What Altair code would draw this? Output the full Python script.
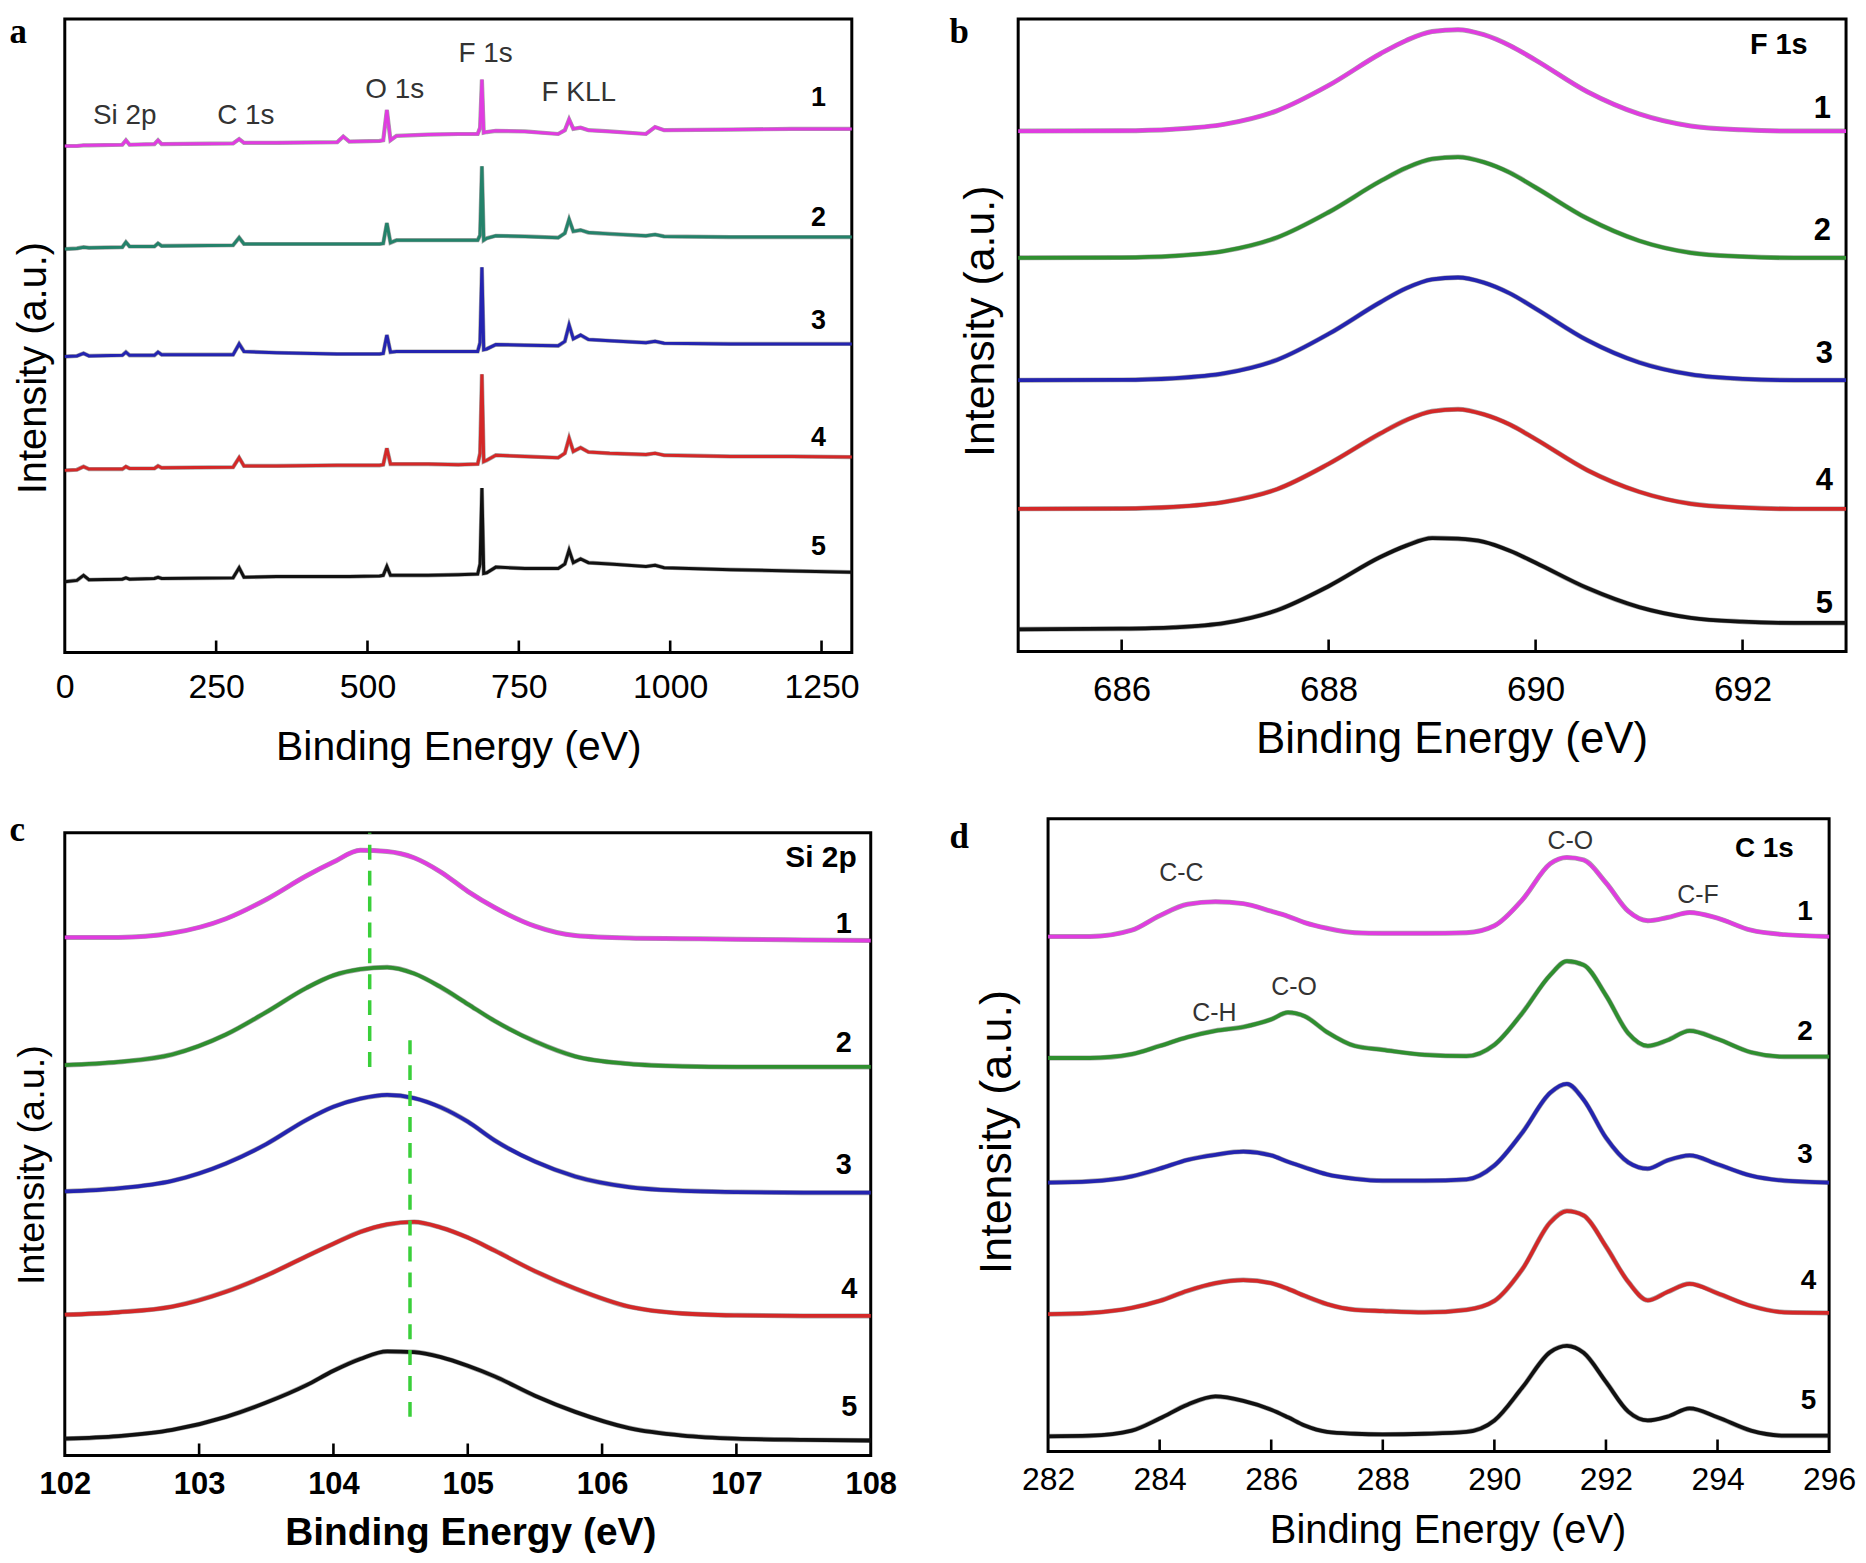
import altair as alt
import pandas as pd

FONT = "Liberation Sans"
SERIF = "Liberation Serif"
SERIES = ["1", "2", "3", "4", "5"]

# ---------------- panel a : survey spectra ----------------
A_X = [0, 20, 31, 40, 95, 101, 107, 148, 154, 160, 278, 288, 296, 350, 450, 460, 470,
       520, 526, 532, 538, 548, 600, 650, 682, 686, 689, 692, 697, 712, 760, 815, 826,
       833, 840, 852, 865, 900, 960, 975, 990, 1100, 1200, 1300]
A_S1 = [80.1, 80.1, 80.2, 80.2, 80.3, 81.0, 80.3, 80.4, 81.0, 80.4, 80.5, 81.2, 80.6, 80.6,
        80.7, 81.6, 80.8, 80.9, 81.0, 85.8, 81.0, 81.7, 81.9, 82.0, 82.0, 83.0, 90.6, 82.2,
        82.3, 82.5, 82.4, 82.0, 82.6, 84.3, 82.8, 83.0, 82.6, 82.4, 82.0, 83.1, 82.6, 82.7,
        82.8, 82.8]
A_S2 = [63.8, 63.9, 64.1, 64.0, 64.1, 64.9, 64.2, 64.2, 64.7, 64.3, 64.4, 65.6, 64.6, 64.6,
        64.6, 64.6, 64.6, 64.6, 64.7, 67.9, 64.8, 65.2, 65.2, 65.2, 65.2, 66.0, 76.9, 65.2,
        65.5, 65.9, 65.8, 65.6, 66.3, 68.5, 66.6, 66.8, 66.4, 66.2, 65.9, 66.1, 65.8, 65.7,
        65.7, 65.7]
A_S3 = [46.8, 46.9, 47.3, 46.9, 47.0, 47.5, 47.0, 47.0, 47.5, 47.1, 47.1, 48.8, 47.6, 47.4,
        47.2, 47.2, 47.2, 47.2, 47.3, 50.2, 47.5, 47.6, 47.6, 47.6, 47.6, 49.0, 60.9, 47.9,
        48.0, 48.7, 48.6, 48.5, 49.2, 51.8, 49.6, 50.2, 49.5, 49.3, 49.0, 49.2, 48.9, 48.8,
        48.8, 48.8]
A_S4 = [28.8, 28.9, 29.4, 29.0, 29.0, 29.4, 29.1, 29.1, 29.5, 29.2, 29.3, 30.8, 29.5, 29.5,
        29.6, 29.6, 29.6, 29.6, 29.7, 32.3, 29.8, 29.8, 29.8, 29.7, 29.8, 31.5, 44.0, 30.2,
        30.4, 31.2, 31.0, 30.8, 31.5, 33.9, 31.8, 32.4, 31.7, 31.5, 31.3, 31.5, 31.2, 31.0,
        31.0, 30.9]
A_S5 = [11.2, 11.4, 12.2, 11.5, 11.6, 11.8, 11.6, 11.7, 11.9, 11.7, 11.8, 13.4, 11.9, 12.0,
        12.0, 12.0, 12.0, 12.1, 12.2, 13.6, 12.2, 12.2, 12.2, 12.3, 12.4, 14.0, 26.0, 12.5,
        12.6, 13.5, 13.3, 13.3, 14.0, 16.2, 14.2, 14.8, 14.2, 14.0, 13.6, 13.8, 13.4, 13.1,
        12.9, 12.7]
A_TICKS = [0, 250, 500, 750, 1000, 1250]
A_PEAK_TEXT = ["Si 2p", "C 1s", "O 1s", "F 1s", "F KLL"]
A_PEAK_X = [99, 299, 545, 695, 849]
A_PEAK_Y = [84.9, 84.9, 89.0, 94.6, 88.4]
A_NUM_X = [1245, 1245, 1245, 1245, 1245]
A_NUM_Y = [87.7, 68.7, 52.4, 33.9, 16.7]

# ---------------- panel b : F 1s ----------------
B_X = [685, 686, 686.5, 687, 687.5, 688, 688.5, 688.75, 689, 689.25, 689.5, 689.75, 690,
       690.5, 691, 691.5, 692, 692.5, 693]
B_S1 = [82.1, 82.15, 82.4, 83.2, 85.3, 89.3, 94.3, 96.4, 97.8, 98.1, 97.3, 95.6, 93.3, 88.3, 84.8, 82.9, 82.3, 82.1, 82.1]
B_S2 = [62.1, 62.15, 62.4, 63.2, 65.3, 69.3, 74.2, 76.3, 77.7, 78.0, 77.2, 75.55, 73.2, 68.3, 64.8, 62.9, 62.3, 62.1, 62.1]
B_S3 = [42.8, 42.85, 43.1, 43.9, 46.0, 50.1, 55.1, 57.3, 58.7, 59.0, 58.2, 56.5, 54.1, 49.1, 45.6, 43.7, 43.0, 42.8, 42.8]
B_S4 = [22.5, 22.55, 22.8, 23.6, 25.6, 29.6, 34.4, 36.5, 37.9, 38.2, 37.4, 35.8, 33.5, 28.6, 25.2, 23.3, 22.7, 22.5, 22.5]
B_S5 = [3.5, 3.6, 3.8, 4.5, 6.5, 10.3, 14.9, 16.7, 17.9, 17.8, 17.3, 15.9, 14.0, 10.0, 7.0, 5.3, 4.7, 4.5, 4.5]
B_TICKS = [686, 688, 690, 692]
B_NUM_X = [692.77, 692.77, 692.79, 692.79, 692.79]
B_NUM_Y = [85.5, 66.4, 46.9, 26.9, 7.5]

# ---------------- panel c : Si 2p ----------------
C_X = [102, 102.4, 102.8, 103.2, 103.5, 103.8, 104.0, 104.2, 104.4, 104.6, 104.8, 105.0,
       105.2, 105.5, 105.8, 106.2, 106.6, 107.0, 107.5, 108]
C_S1 = [83.2, 83.2, 83.9, 86.2, 89.3, 93.1, 95.3, 97.2, 97.0, 96.0, 93.7, 90.6, 88.0, 85.0, 83.5, 83.1, 83.0, 82.9, 82.8, 82.7]
C_S2 = [62.7, 63.2, 64.4, 67.6, 71.2, 75.1, 77.1, 78.1, 78.4, 77.4, 75.2, 72.5, 69.8, 66.5, 64.1, 62.9, 62.5, 62.4, 62.4, 62.4]
C_S3 = [42.4, 42.9, 44.1, 46.9, 50.0, 53.9, 56.0, 57.3, 57.9, 57.4, 55.9, 53.6, 50.6, 47.2, 44.8, 43.1, 42.5, 42.3, 42.2, 42.2]
C_S4 = [22.6, 23.0, 23.9, 26.3, 28.9, 32.0, 34.0, 35.9, 37.1, 37.5, 36.6, 35.0, 32.9, 29.6, 26.8, 23.9, 22.8, 22.5, 22.4, 22.4]
C_S5 = [2.7, 3.1, 4.1, 6.2, 8.5, 11.3, 13.6, 15.5, 16.7, 16.6, 15.8, 14.4, 12.7, 9.6, 7.0, 4.4, 3.2, 2.7, 2.5, 2.4]
C_TICKS = [102, 103, 104, 105, 106, 107, 108]
C_DASH_X = [104.27, 104.57]
C_DASH_LO = [62.4, 6.2]
C_DASH_HI = [100.0, 66.7]
C_NUM_X = [107.8, 107.8, 107.8, 107.84, 107.84]
C_NUM_Y = [85.4, 66.2, 46.7, 26.7, 7.8]

# ---------------- panel d : C 1s ----------------
D_X = [282, 282.75, 283.5, 284, 284.5, 285, 285.5, 286, 286.3, 286.6, 287, 287.5, 288,
       288.75, 289.5, 290, 290.5, 291, 291.3, 291.6, 292, 292.4, 292.75, 293.1, 293.5,
       294, 294.6, 295.2, 296]
D_S1 = [81.4, 81.4, 82.4, 84.7, 86.5, 86.9, 86.6, 85.4, 84.6, 83.6, 82.7, 82.0, 81.9, 81.9, 82.0,
        83.1, 87.2, 92.9, 93.9, 93.5, 89.9, 85.4, 83.9, 84.4, 85.2, 84.3, 82.4, 81.7, 81.4]
D_S2 = [62.2, 62.2, 62.8, 64.1, 65.5, 66.5, 67.1, 68.3, 69.4, 68.8, 66.3, 64.1, 63.5, 62.7, 62.5,
        64.3, 69.3, 75.3, 77.5, 76.9, 72.1, 66.1, 64.1, 65.0, 66.5, 65.2, 63.1, 62.4, 62.4]
D_S3 = [42.5, 42.7, 43.5, 44.7, 46.1, 46.9, 47.4, 46.8, 45.8, 44.9, 43.8, 43.1, 42.8, 42.8, 43.0,
        45.2, 50.4, 56.7, 58.1, 55.6, 49.6, 45.7, 44.7, 46.0, 46.8, 45.4, 43.6, 42.8, 42.5]
D_S4 = [21.7, 21.9, 22.7, 23.8, 25.4, 26.6, 27.1, 26.6, 25.7, 24.6, 23.3, 22.4, 22.2, 22.0, 22.4,
        23.8, 28.8, 36.2, 38.0, 37.3, 32.4, 26.8, 23.9, 25.2, 26.5, 25.0, 23.0, 22.0, 21.9]
D_S5 = [2.4, 2.5, 3.3, 5.2, 7.4, 8.7, 8.0, 6.6, 5.4, 4.1, 3.1, 2.8, 2.7, 2.8, 3.1,
        4.9, 10.1, 15.7, 16.7, 15.6, 11.0, 6.3, 4.9, 5.5, 6.8, 5.4, 3.3, 2.5, 2.5]
D_TICKS = [282, 284, 286, 288, 290, 292, 294, 296]
D_PEAK_TEXT = ["C-C", "C-O", "C-F", "C-H", "C-O"]
D_PEAK_X = [284.39, 291.36, 293.65, 284.98, 286.41]
D_PEAK_Y = [91.5, 96.5, 87.9, 69.3, 73.4]
D_NUM_X = [295.57, 295.57, 295.57, 295.63, 295.63]
D_NUM_Y = [85.2, 66.3, 46.9, 26.9, 8.0]

MAGENTA, BLUE, RED, BLACK = "#E03CE0", "#2424B0", "#D42828", "#111111"
COLORS_A = [MAGENTA, "#24826A", BLUE, RED, BLACK]
COLORS_BCD = [MAGENTA, "#2F8F2F", BLUE, RED, BLACK]


def long_df(xs, ys_list):
    rows = []
    for name, ys in zip(SERIES, ys_list):
        for x, y in zip(xs, ys):
            rows.append({"x": x, "y": y, "s": name})
    return pd.DataFrame(rows)


def panel(xs, ys_list, colors, W, H, xdom, ydom, ticks, interp, lw,
          xlab, xtitle, ytitle, letter, nums, title_lab=None, peaks=None, extra=None,
          frame_top=None):
    xs_scale = alt.Scale(domain=xdom, nice=False, zero=False)
    ys_scale = alt.Scale(domain=ydom, nice=False, zero=False)
    xaxis = alt.Axis(values=ticks, format="d", labelFont=FONT, labelFontSize=xlab["fs"],
                     labelFontWeight=xlab["w"], labelColor="black", labelPadding=xlab["pad"],
                     labelFlush=False, labelOverlap=False, ticks=False, tickSize=0,
                     domain=False, grid=False, title="Binding Energy (eV)", titleFont=FONT,
                     titleFontSize=xtitle["fs"], titleFontWeight=xtitle["w"],
                     titleColor="black", titleX=xtitle["x"], titleY=xtitle["y"],
                     titleBaseline="top", titleAlign="center")
    yaxis = alt.Axis(labels=False, ticks=False, tickSize=0, domain=False, grid=False,
                     title="Intensity (a.u.)", titleFont=FONT, titleFontSize=ytitle["fs"],
                     titleFontWeight="normal", titleColor="black", titleX=ytitle["x"],
                     titleY=ytitle["y"], titleAngle=270, titleBaseline="bottom",
                     titleAlign="center")

    def X(field="x"):
        return alt.X(f"{field}:Q", scale=xs_scale, axis=xaxis)

    def Y(field="y"):
        return alt.Y(f"{field}:Q", scale=ys_scale, axis=yaxis)

    layers = []
    if frame_top is not None:
        layers.append(alt.Chart(pd.DataFrame({"f": [0]})).mark_rect(
            fillOpacity=0, stroke="black", strokeWidth=3).encode(
            x=alt.value(0), x2=alt.value(W), y=alt.value(frame_top), y2=alt.value(H)))

    df = long_df(xs, ys_list)
    color = alt.Color("s:N", scale=alt.Scale(domain=SERIES, range=colors), legend=None)
    layers.append(alt.Chart(df).mark_line(interpolate=interp, strokeWidth=lw + 1.2,
                                          color="#202020", opacity=0.4).encode(
        x=X(), y=Y(), detail="s:N"))
    layers.append(alt.Chart(df).mark_line(interpolate=interp, strokeWidth=lw).encode(
        x=X(), y=Y(), color=color, detail="s:N"))
    inner = [t for t in ticks if xdom[0] < t < xdom[1]]
    layers.append(alt.Chart(pd.DataFrame({"x": inner})).mark_rule(
        color="black", strokeWidth=2.6).encode(
        x=X(), y=alt.value(H), y2=alt.value(H - 12)))
    if extra is not None:
        layers.append(extra(X, Y))
    ndf = pd.DataFrame({"x": nums["x"], "y": nums["y"], "t": SERIES})
    layers.append(alt.Chart(ndf).mark_text(font=FONT, fontWeight="bold", fontSize=nums["fs"],
                                           color="black", align="center", baseline="middle").encode(
        x=X(), y=Y(), text="t:N"))
    if title_lab is not None:
        tdf = pd.DataFrame({"x": [title_lab["x"]], "y": [title_lab["y"]], "t": [title_lab["t"]]})
        layers.append(alt.Chart(tdf).mark_text(font=FONT, fontWeight="bold",
                                               fontSize=title_lab["fs"], color="black",
                                               align="center", baseline="middle").encode(
            x=X(), y=Y(), text="t:N"))
    if peaks is not None:
        pdf = pd.DataFrame({"x": peaks["x"], "y": peaks["y"], "t": peaks["t"]})
        layers.append(alt.Chart(pdf).mark_text(font=FONT, fontSize=peaks["fs"], color="#333333",
                                               align="center", baseline="middle").encode(
            x=X(), y=Y(), text="t:N"))
    ldf = pd.DataFrame({"t": [letter["t"]]})
    layers.append(alt.Chart(ldf).mark_text(font=SERIF, fontWeight="bold", fontSize=35,
                                           color="black", align="left",
                                           baseline="alphabetic").encode(
        x=alt.value(letter["x"]), y=alt.value(letter["y"]), text="t:N"))
    props = {"width": W, "height": H}
    if frame_top is not None:
        props["view"] = alt.ViewBackground(strokeOpacity=0)
    return alt.layer(*layers).properties(**props)


def c_dashes(X, Y):
    ddf = pd.DataFrame({"x": C_DASH_X, "lo": C_DASH_LO, "hi": C_DASH_HI})
    return alt.Chart(ddf).mark_rule(color="#3ACF3A", strokeWidth=3.5,
                                    strokeDash=[15, 11]).encode(
        x=X(), y=Y("lo"), y2="hi:Q")


pa = panel(A_X, [A_S1, A_S2, A_S3, A_S4, A_S5], COLORS_A, 790, 636, [0, 1300], [0, 100.2],
           A_TICKS, "linear", 3.0,
           {"fs": 34, "w": "normal", "pad": 18},
           {"fs": 41, "w": "normal", "x": 395, "y": 75},
           {"fs": 40, "x": -11.5, "y": 350},
           {"t": "a", "x": -55.5, "y": 24},
           {"x": A_NUM_X, "y": A_NUM_Y, "fs": 27},
           peaks={"x": A_PEAK_X, "y": A_PEAK_Y, "t": A_PEAK_TEXT, "fs": 28})

pb = panel(B_X, [B_S1, B_S2, B_S3, B_S4, B_S5], COLORS_BCD, 831, 635, [685, 693], [0, 99.8],
           B_TICKS, "monotone", 3.8,
           {"fs": 35, "w": "normal", "pad": 21},
           {"fs": 44, "w": "normal", "x": 435, "y": 66},
           {"fs": 43, "x": -16, "y": 303},
           {"t": "b", "x": -69, "y": 24},
           {"x": B_NUM_X, "y": B_NUM_Y, "fs": 31},
           title_lab={"x": 692.35, "y": 95.6, "t": "F 1s", "fs": 29})

pc = panel(C_X, [C_S1, C_S2, C_S3, C_S4, C_S5], COLORS_BCD, 809, 639, [102, 108], [0, 102.24],
           C_TICKS, "monotone", 3.8,
           {"fs": 31, "w": "bold", "pad": 14},
           {"fs": 39, "w": "bold", "x": 407, "y": 58},
           {"fs": 38, "x": -13.5, "y": 347},
           {"t": "c", "x": -55.5, "y": 22},
           {"x": C_NUM_X, "y": C_NUM_Y, "fs": 29},
           title_lab={"x": 107.63, "y": 96.0, "t": "Si 2p", "fs": 30},
           extra=c_dashes, frame_top=14)

pd_ = panel(D_X, [D_S1, D_S2, D_S3, D_S4, D_S5], COLORS_BCD, 784, 635, [282, 296], [0, 100.0],
            D_TICKS, "monotone", 3.8,
            {"fs": 32, "w": "normal", "pad": 13},
            {"fs": 40, "w": "normal", "x": 401, "y": 59},
            {"fs": 45, "x": -29, "y": 314},
            {"t": "d", "x": -99, "y": 29},
            {"x": D_NUM_X, "y": D_NUM_Y, "fs": 28},
            title_lab={"x": 294.84, "y": 95.3, "t": "C 1s", "fs": 28},
            peaks={"x": D_PEAK_X, "y": D_PEAK_Y, "t": D_PEAK_TEXT, "fs": 25})

row1 = alt.hconcat(pa, pb, spacing=167, bounds="flush").resolve_scale(color="independent")
row2 = alt.hconcat(pc, pd_, spacing=178, bounds="flush").resolve_scale(color="independent")
chart = alt.vconcat(row1, row2, spacing=44).resolve_scale(color="independent").properties(
    padding={"left": 0, "top": 2, "right": 0, "bottom": 0}
).configure(
    font=FONT, view=alt.ViewConfig(stroke="black", strokeWidth=3)
)

chart.save("out.html", embed_options={"renderer": "svg", "actions": False})
